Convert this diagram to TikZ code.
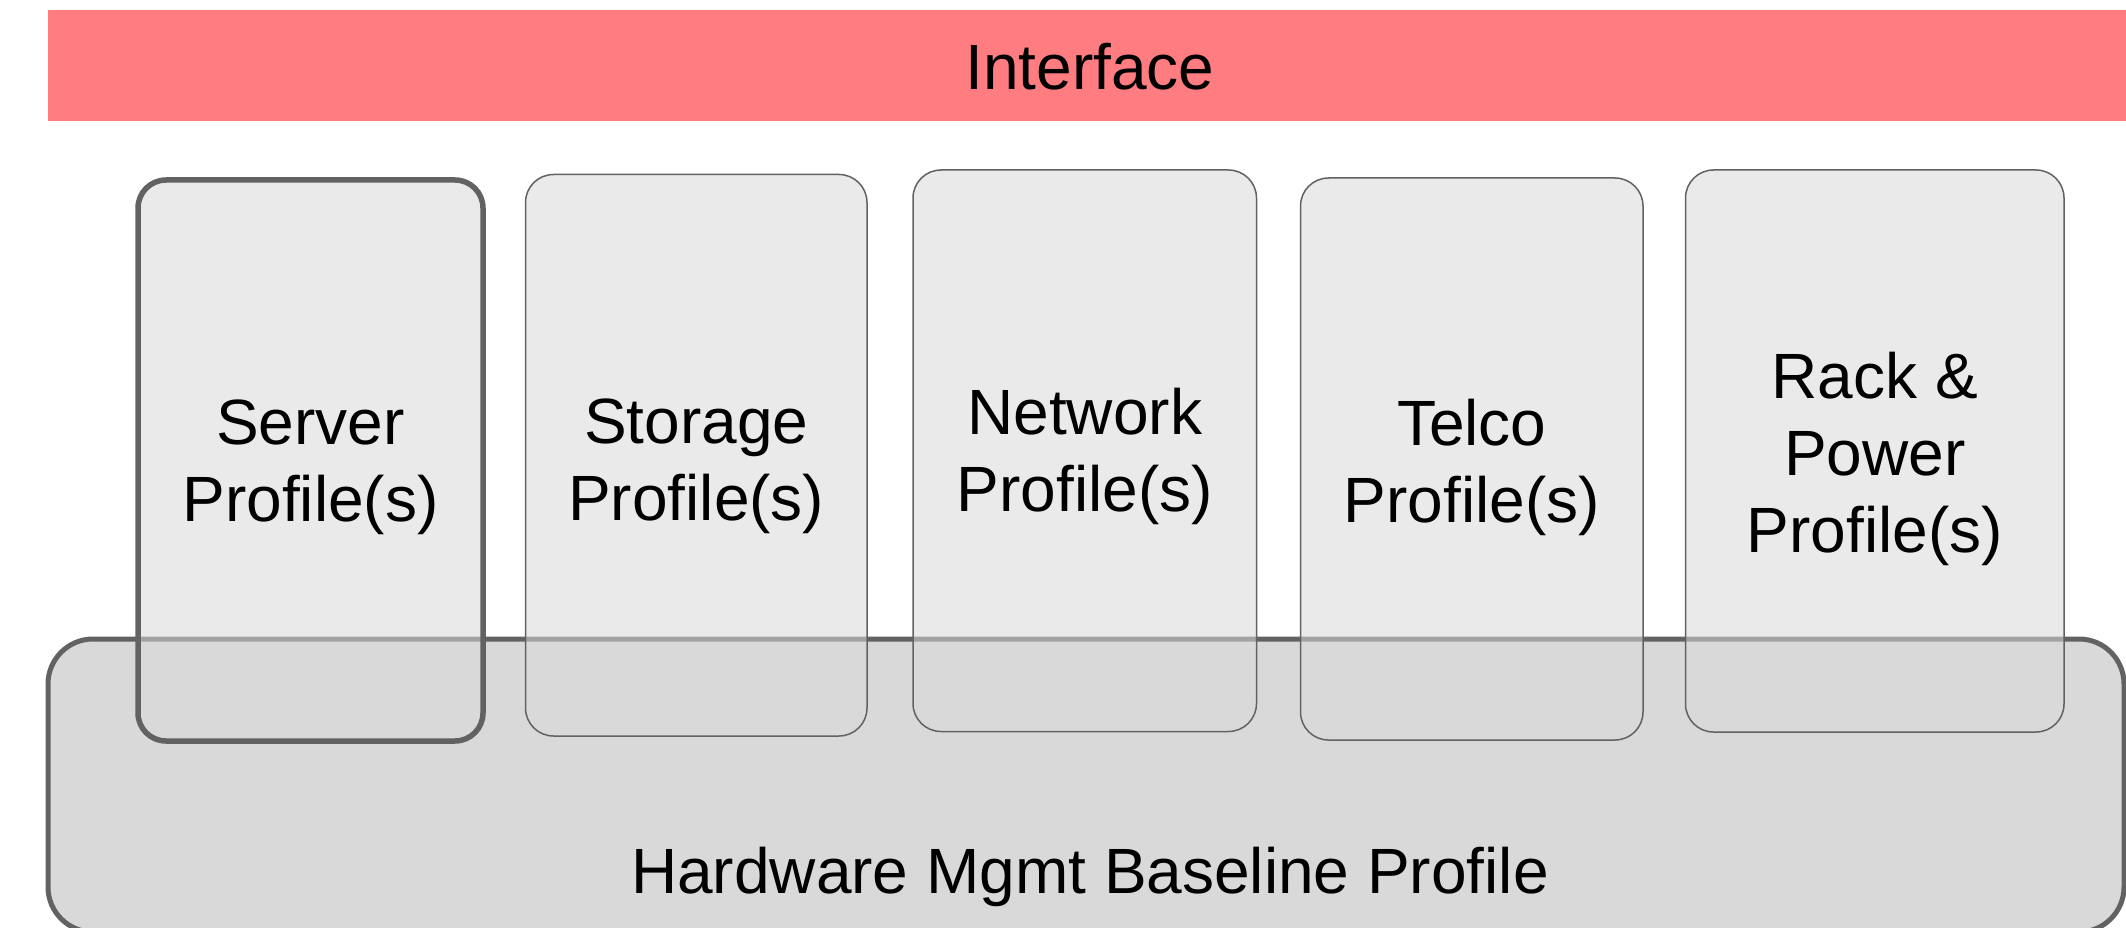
\documentclass[tikz,border=0pt]{standalone}
\usepackage{fontspec}
\setmainfont{Liberation Sans}
\definecolor{ifacered}{HTML}{FF7C80}
\definecolor{basefill}{HTML}{D9D9D9}
\definecolor{edgegray}{HTML}{626262}
\begin{document}
\begin{tikzpicture}[x=1pt,y=-1pt,
  lbl/.style={inner sep=0pt, align=center, font=\fontsize{64}{77}\selectfont},
  profilebox/.style={draw=edgegray, line width=1.5pt, fill=basefill, fill opacity=0.55,
    draw opacity=1, rounded corners=28pt, inner sep=0pt},
  basebox/.style={draw=edgegray, line width=5pt, fill=basefill, rounded corners=45pt, inner sep=0pt},
  ifacebar/.style={fill=ifacered, inner sep=0pt}]
\useasboundingbox (0,0) rectangle (2126,928);

% top interface strip
\node[ifacebar, anchor=north west, minimum width=2100pt, minimum height=111.5pt] (iface) at (47.5,9.5) {};
\node[lbl, anchor=base] (ifacetext) at (1090,90) {Interface};

% baseline profile underneath the individual profiles
\node[basebox, minimum width=2076pt, minimum height=293pt] (baseline) at (1086,785.5) {};
\node[lbl, anchor=base] (basetext) at (1090,893) {Hardware Mgmt Baseline Profile};

% individual profiles
\node[profilebox, line width=5.5pt, minimum width=345pt, minimum height=561pt] (server) at (310.5,460.5) {};
\node[profilebox, minimum width=341.5pt, minimum height=561.5pt] (storage) at (696.25,455.25) {};
\node[profilebox, minimum width=343.5pt, minimum height=561.5pt] (network) at (1084.75,450.75) {};
\node[profilebox, minimum width=342.5pt, minimum height=562pt] (telco) at (1471.75,459) {};
\node[profilebox, minimum width=378.5pt, minimum height=562pt] (rack) at (1874.75,451) {};

\node[lbl] (servertext) at (310.5,467.5) {Server\\Profile(s)};
\node[lbl] (storagetext) at (696.25,466) {Storage\\Profile(s)};
\node[lbl] (networktext) at (1084.75,456.5) {Network\\Profile(s)};
\node[lbl] (telcotext) at (1471.75,467.5) {Telco\\Profile(s)};
\node[lbl] (racktext) at (1874.75,459) {Rack \&\\Power\\Profile(s)};
\end{tikzpicture}
\end{document}
